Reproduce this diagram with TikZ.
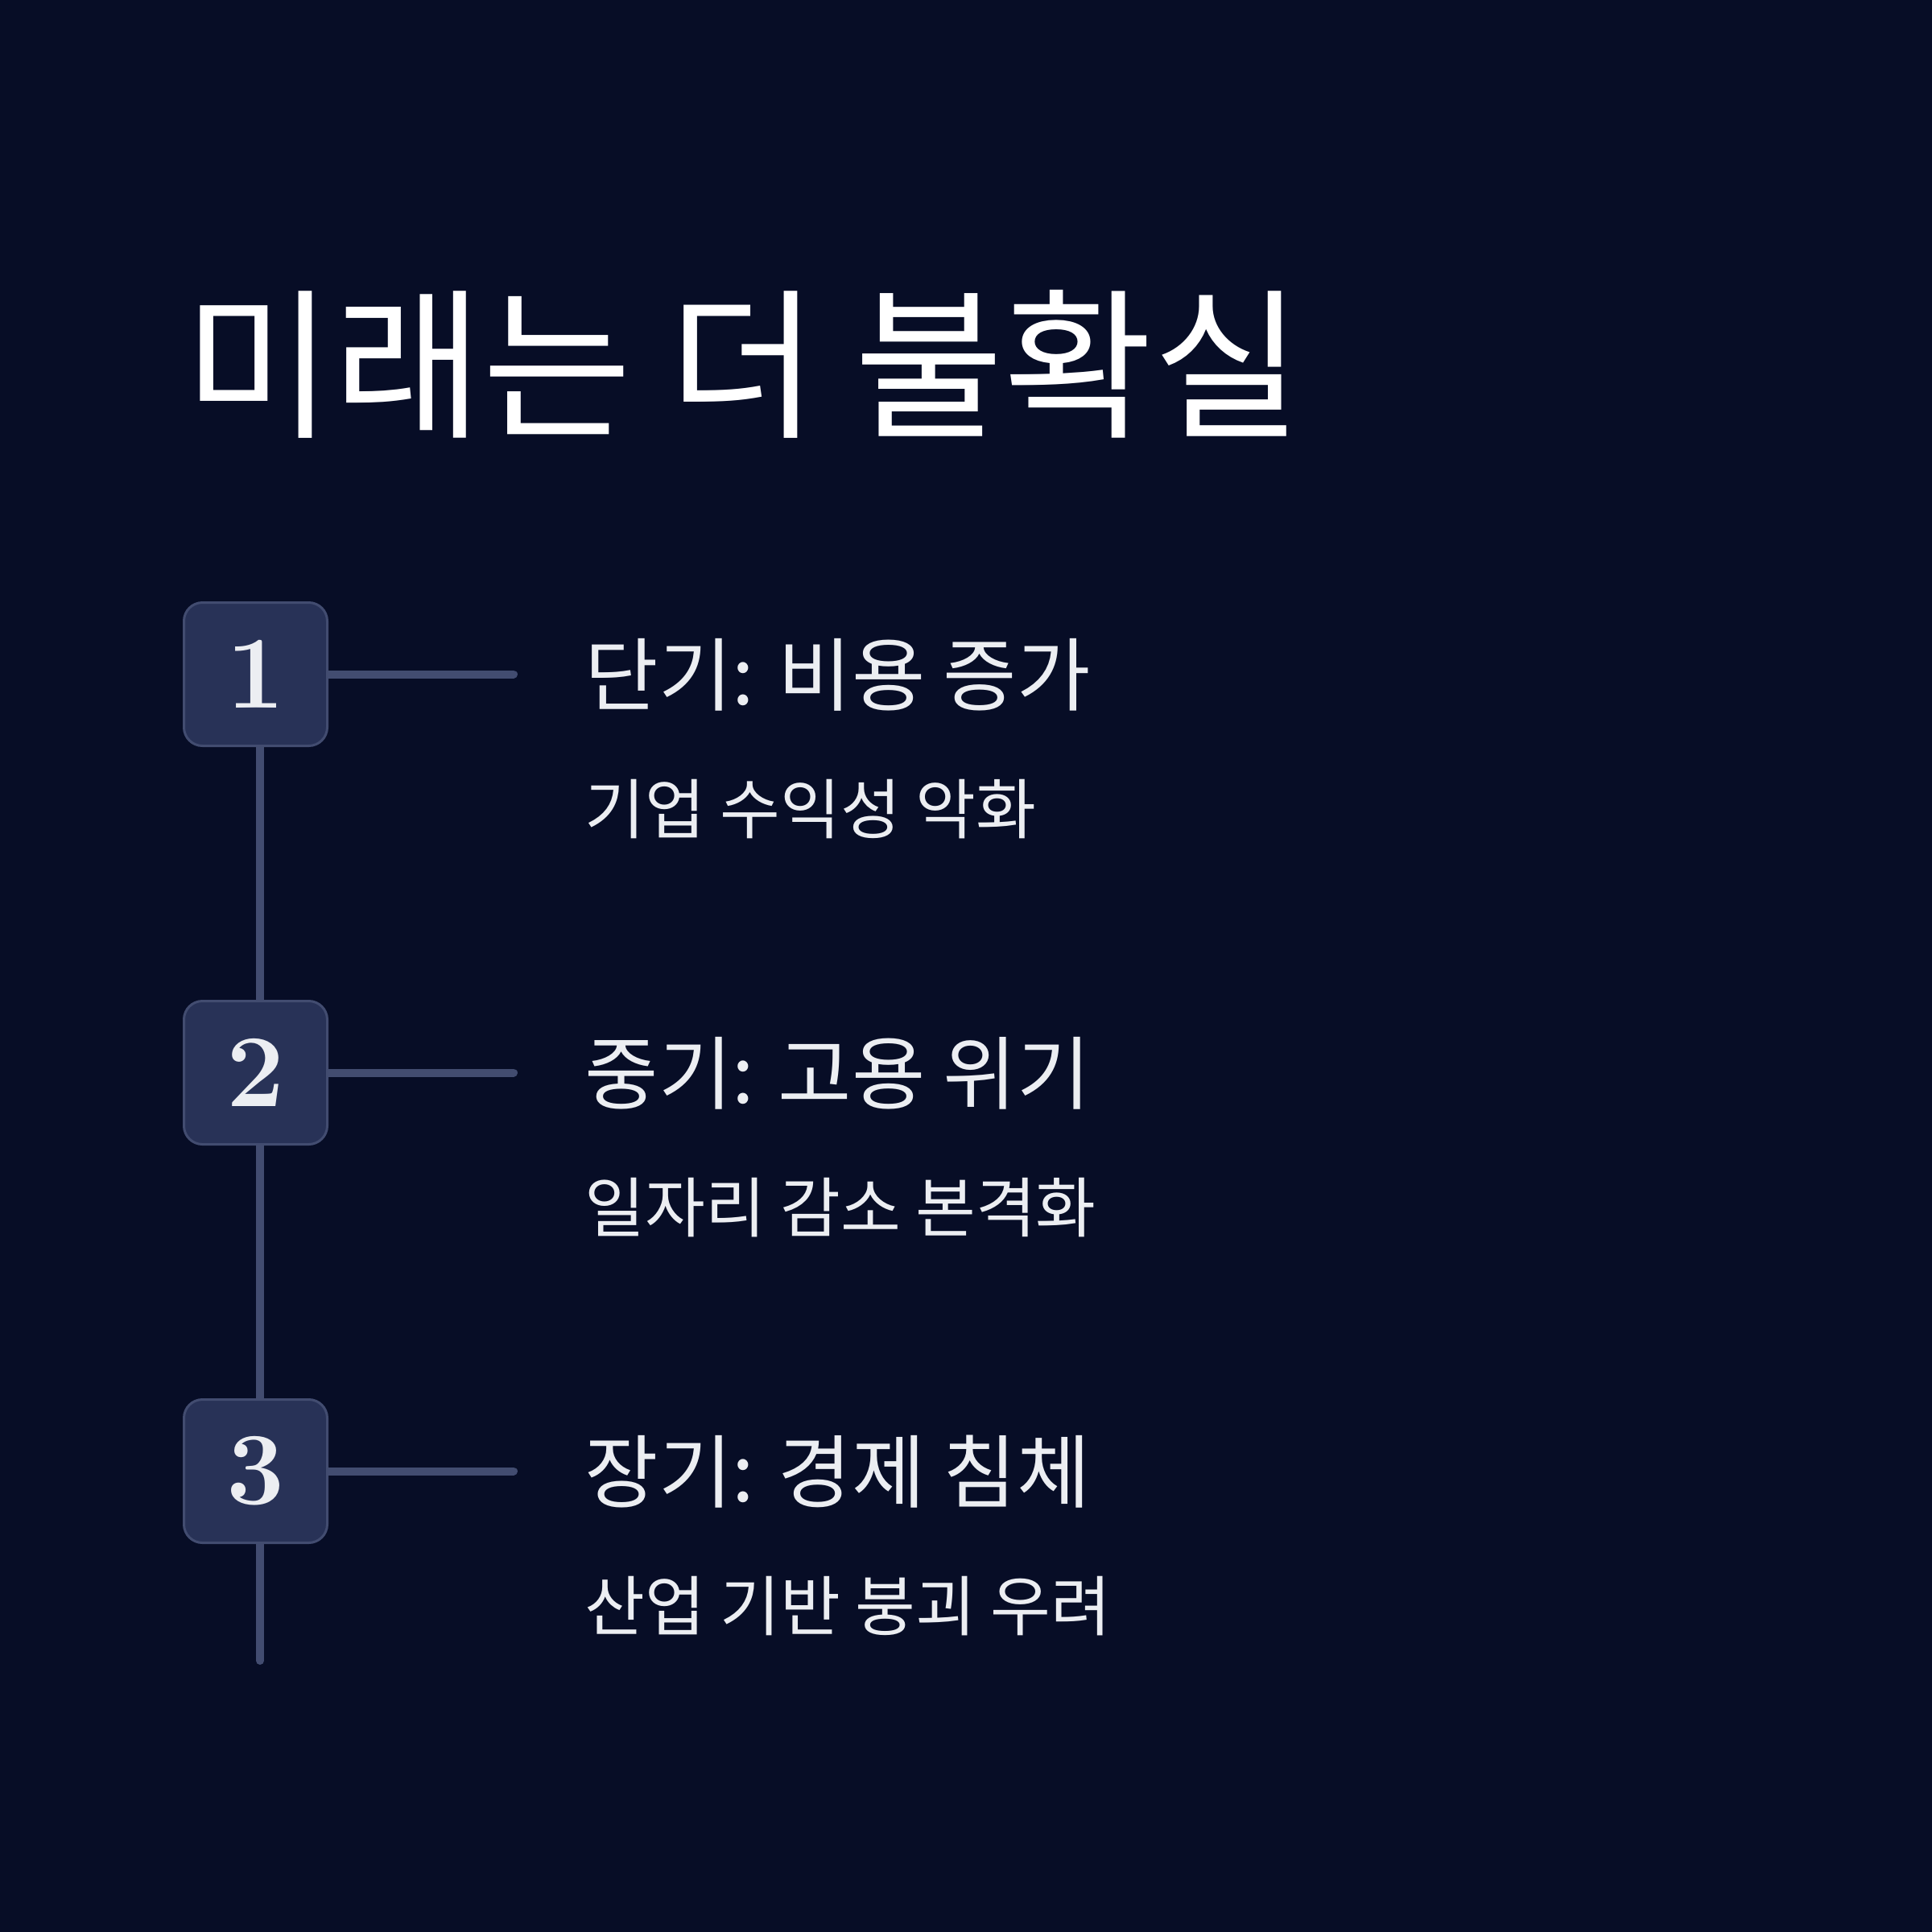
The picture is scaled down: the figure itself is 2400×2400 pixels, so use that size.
\documentclass[tikz,border=0pt]{standalone}
\usepackage{fontspec}
\newfontfamily\kr{Noto Sans CJK KR}
\usetikzlibrary{backgrounds}
\definecolor{bgc}{HTML}{070D26}
\definecolor{boxfill}{HTML}{283257}
\definecolor{boxline}{HTML}{424C70}
\definecolor{txt}{HTML}{ECEEF2}
\tikzset{
  numbox/.style={draw=boxline, fill=boxfill, line width=0.9pt, rounded corners=6.9pt,
    minimum size=53.4pt, inner sep=0pt, text=txt,
    font=\fontsize{38.5}{38.5}\selectfont\bfseries},
  conn/.style={draw=boxline, line width=3pt, line cap=round},
  titletext/.style={anchor=west, inner sep=0pt, text=white, font=\kr\fontsize{60.5}{64}\selectfont},
  headtext/.style={anchor=west, inner sep=0pt, text=txt, font=\kr\fontsize{29.8}{32}\selectfont},
  subtext/.style={anchor=west, inner sep=0pt, text=txt, font=\kr\fontsize{24.4}{27}\selectfont}
}
\begin{document}
\begin{tikzpicture}[x=0.3pt, y=-0.3pt]
\useasboundingbox (0,0) rectangle (2400,2400);
\begin{scope}[on background layer]
  \fill[bgc] (0,0) rectangle (2400,2400);
\end{scope}

\node[titletext] (title) at (228,452) {미래는 더 불확실};

\node[numbox] (b1) at (317.5,837.5) {1};
\node[numbox] (b2) at (317.5,1332.5) {2};
\node[numbox] (b3) at (317.5,1827.5) {3};

\coordinate (vtop) at (323,928);
\coordinate (vbot) at (323,2063);
\coordinate (e1) at (638,837.5);
\coordinate (e2) at (638,1332.5);
\coordinate (e3) at (638,1827.5);

\begin{scope}[on background layer]
  \draw[conn] (vtop) -- (vbot);
  \draw[conn] (b1.east) -- (e1);
  \draw[conn] (b2.east) -- (e2);
  \draw[conn] (b3.east) -- (e3);
\end{scope}

\node[headtext] (h1) at (726,838) {단기: 비용 증가};
\node[subtext] (s1) at (726,1005) {기업 수익성 악화};
\node[headtext] (h2) at (726,1333) {중기: 고용 위기};
\node[subtext] (s2) at (726,1500) {일자리 감소 본격화};
\node[headtext] (h3) at (726,1828) {장기: 경제 침체};
\node[subtext] (s3) at (726,1995) {산업 기반 붕괴 우려};
\end{tikzpicture}
\end{document}
